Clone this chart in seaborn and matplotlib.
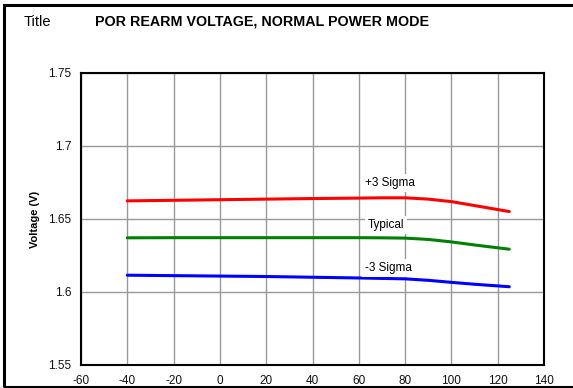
import numpy as np
import pandas as pd
import matplotlib.pyplot as plt
import seaborn as sns
from matplotlib.patches import Rectangle

temps = [-40, -20, 0, 20, 40, 60, 70, 80, 90, 100, 110, 125]
plus3 = [1.6624, 1.6628, 1.6632, 1.6636, 1.6640, 1.6643, 1.6645, 1.6645, 1.6636, 1.6619, 1.6592, 1.6551]
typical = [1.6371, 1.6372, 1.6372, 1.6372, 1.6372, 1.6372, 1.6371, 1.6369, 1.6360, 1.6343, 1.6322, 1.6293]
minus3 = [1.6115, 1.6112, 1.6109, 1.6106, 1.6101, 1.6096, 1.6093, 1.6090, 1.6080, 1.6066, 1.6053, 1.6036]
series_names = ['+3 Sigma', 'Typical', '-3 Sigma']
colors = ['#ff0000', '#008000', '#0000ff']
label_pos = [(73.5, 1.6747), (71.8, 1.6459), (72.6, 1.6164)]

df = pd.DataFrame({'temp': temps * 3,
                   'volt': plus3 + typical + minus3,
                   'series': [n for n in series_names for _ in temps]})

sns.set_style('white')
plt.rcParams['font.family'] = ['Liberation Sans', 'DejaVu Sans']
plt.rcParams['axes.unicode_minus'] = False
plt.rcParams['text.color'] = 'black'

fig = plt.figure(figsize=(5.73, 3.88), dpi=100)
ax = fig.add_axes([0.1414, 0.0593, 0.808, 0.7526])

sns.lineplot(data=df, x='temp', y='volt', hue='series', palette=colors,
             hue_order=series_names, linewidth=2.2, legend=False, ax=ax)

ax.set_xlim(-60, 140)
ax.set_ylim(1.55, 1.75)
ax.set_xticks(range(-60, 141, 20))
ax.set_yticks([1.55, 1.6, 1.65, 1.7, 1.75])
ax.set_yticklabels(['1.55', '1.6', '1.65', '1.7', '1.75'])
ax.grid(True, color='#999999', linewidth=1)
ax.set_axisbelow(True)
ax.tick_params(axis='x', length=0, labelsize=8.5, pad=7, colors='#111111')
ax.tick_params(axis='y', length=0, labelsize=8.5, pad=7, colors='#111111')
for s in ax.spines.values():
    s.set_color('black')
    s.set_linewidth(1.5)
ax.set_xlabel('')
ax.set_ylabel('Voltage (V)', fontsize=8, fontweight='bold', labelpad=6, color='black')

for name, (x, y) in zip(series_names, label_pos):
    ax.text(x, y, name, fontsize=8.5, ha='center', va='center', color='black',
            bbox=dict(facecolor='white', edgecolor='none', pad=2))

fig.text(24 / 573, 1 - 22 / 388, 'Title', fontsize=10.5, va='center', ha='left')
fig.text(95 / 573, 1 - 22 / 388, 'POR REARM VOLTAGE, NORMAL POWER MODE',
         fontsize=10.3, fontweight='bold', va='center', ha='left')

fig.patches.append(Rectangle((4 / 573, 1 / 388), 1.0, 382 / 388, transform=fig.transFigure,
                             fill=False, edgecolor='black', linewidth=2.2, clip_on=False))

fig.savefig('out.png', dpi=100)
